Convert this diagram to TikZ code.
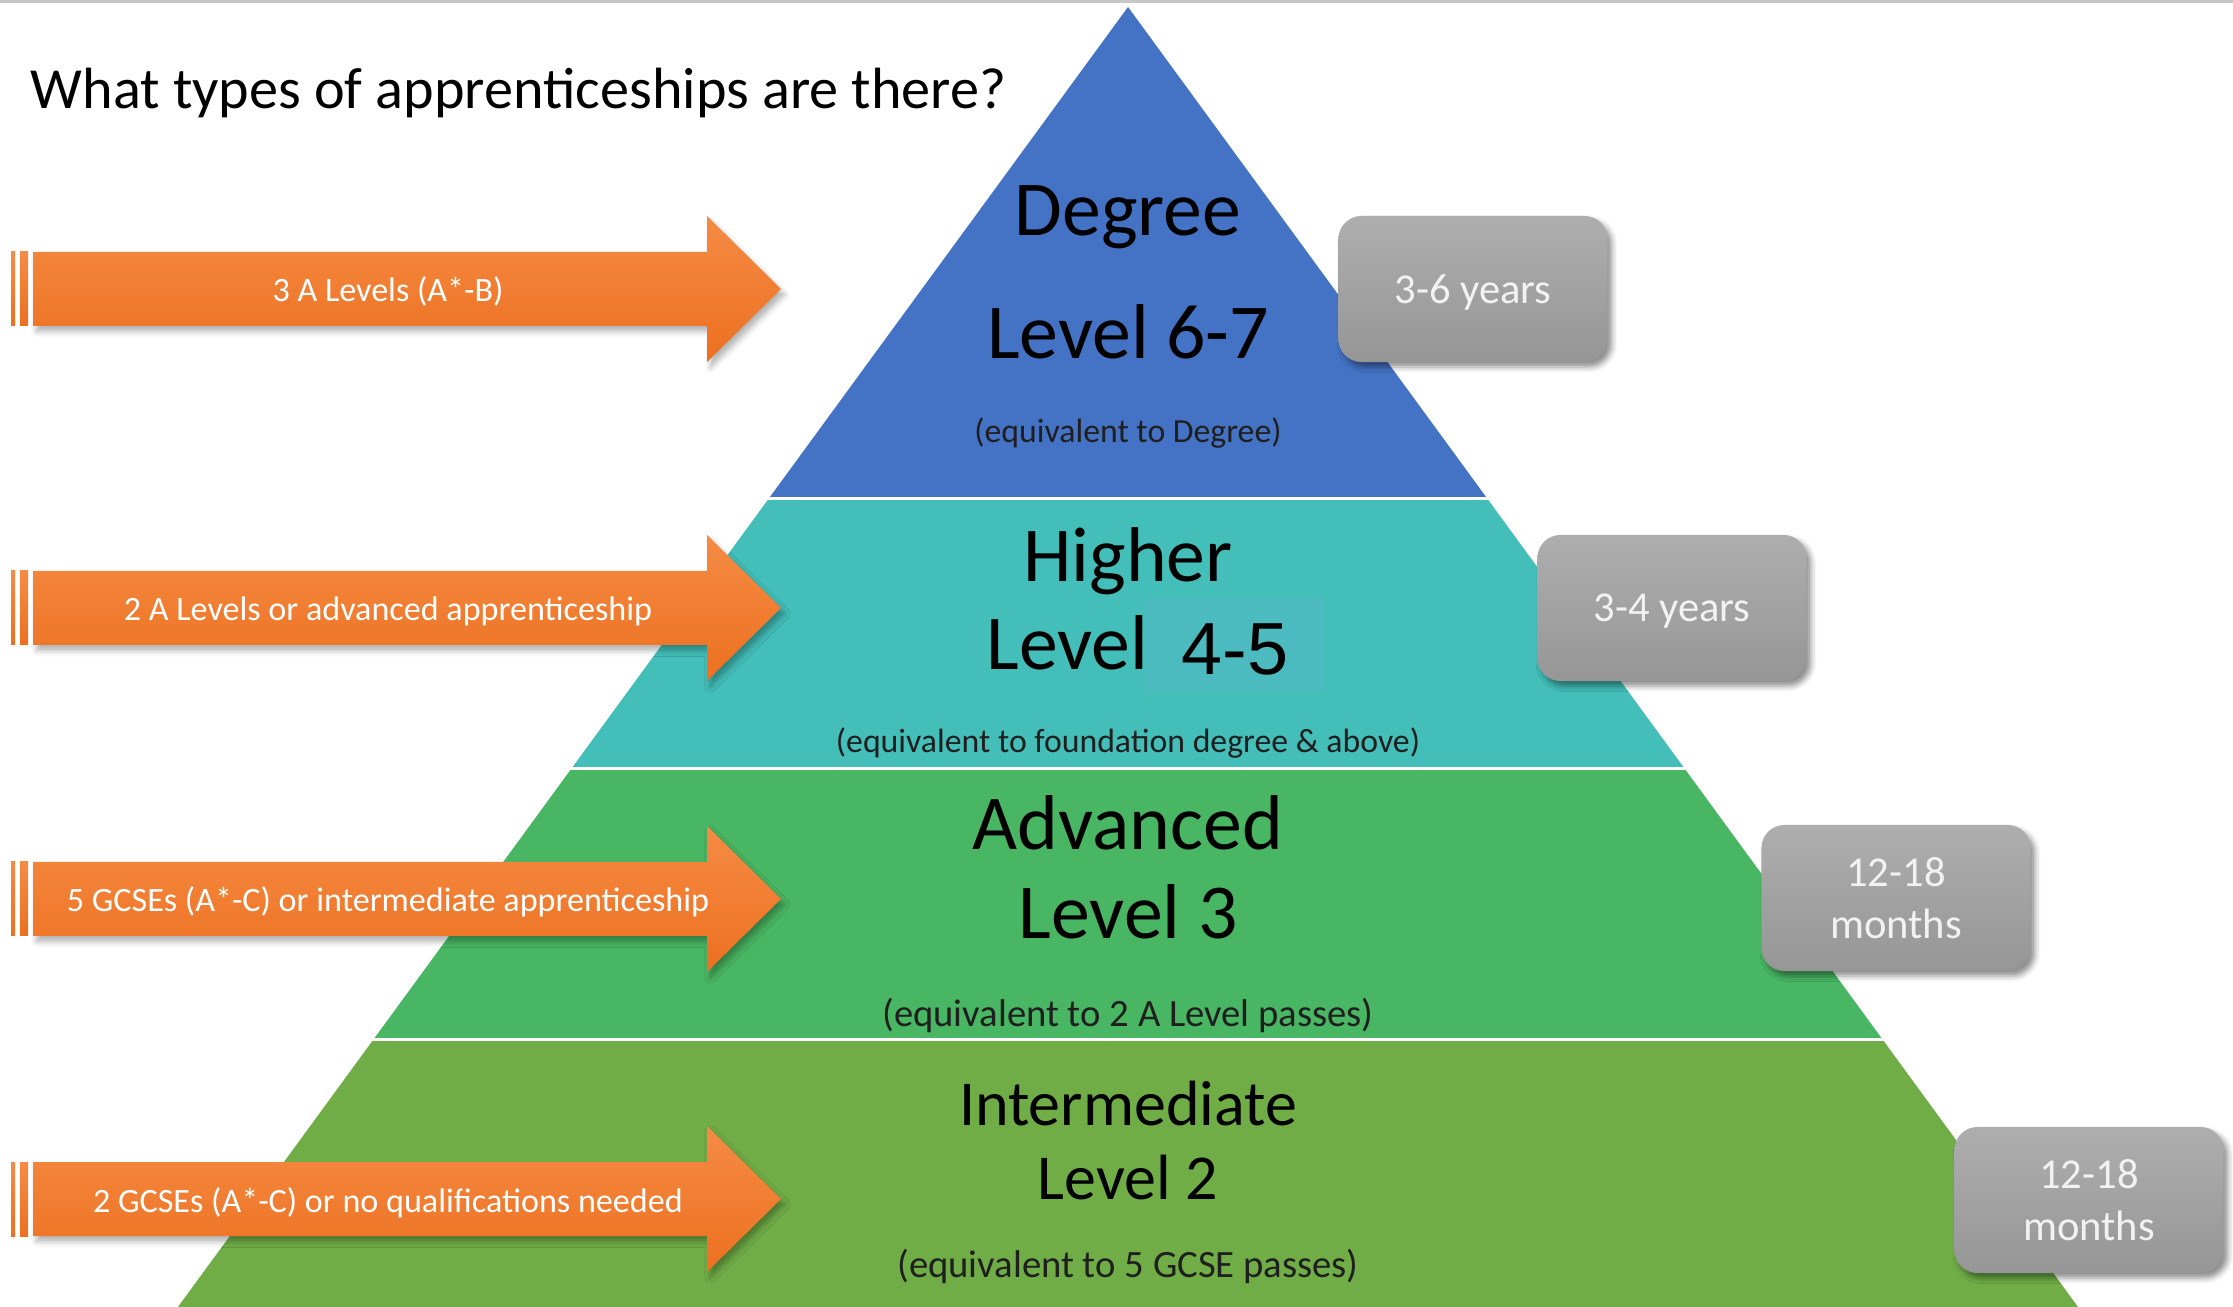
\documentclass[tikz,border=0pt]{standalone}
\usepackage{fontspec}
\setmainfont{Carlito}
\newfontfamily\arialfont{Liberation Sans}
\usepackage{tikz}
\usetikzlibrary{shadows,shadows.blur}
\definecolor{degcolor}{RGB}{68,114,196}
\definecolor{higcolor}{RGB}{67,190,185}
\definecolor{higmark}{RGB}{75,187,192}
\definecolor{advcolor}{RGB}{72,182,98}
\definecolor{intcolor}{RGB}{112,173,71}
\definecolor{orangetop}{RGB}{245,139,68}
\definecolor{orangebot}{RGB}{236,112,32}
\definecolor{greytop}{RGB}{174,174,174}
\definecolor{greybot}{RGB}{150,150,150}

\begin{document}
\begin{tikzpicture}[x=0.01cm, y=-0.01cm,
        durbox/.style  = {rectangle, rounded corners=0.23cm, minimum width=2.69cm, minimum height=1.46cm, top color=greytop, bottom color=greybot, text=white!95!black, align=center, font=\fontsize{12.1}{14.8}\selectfont, blur shadow={shadow xshift=1.2pt, shadow yshift=-1.4pt, shadow blur radius=1.6pt, shadow opacity=45}},
]
\tikzstyle{levelname}=[anchor=base, inner sep=0, font=\fontsize{22.1}{26}\selectfont]
\tikzstyle{levelsmall}=[anchor=base, inner sep=0, font=\fontsize{18.2}{22}\selectfont]
\tikzstyle{equiv}=[anchor=base, inner sep=0, text=black!88, font=\fontsize{9.6}{12}\selectfont]
\tikzstyle{equivbig}=[anchor=base, inner sep=0, text=black!88, font=\fontsize{11}{13}\selectfont]
\tikzstyle{reqbar}=[top color=orangetop, bottom color=orangebot]
\tikzstyle{reqarrow}=[top color=orangetop, bottom color=orangebot, blur shadow={shadow xshift=1pt, shadow yshift=-1.6pt, shadow blur radius=1.6pt, shadow opacity=30}]
\tikzstyle{reqtext}=[anchor=base, inner sep=0, text=white, font=\fontsize{9.7}{12}\selectfont]

	\useasboundingbox (0,0) rectangle (2233,1307);
	\draw[line width=0.85pt, black!22] (0,2) -- (2233,2);

	% pyramid
	\begin{scope}
	\clip (1128,7) -- (2146,1400) -- (110,1400) -- cycle;
	\fill[degcolor] (0,0) rectangle (2233,497);
	\fill[higcolor] (0,500) rectangle (2233,767);
	\fill[advcolor] (0,770) rectangle (2233,1038);
	\fill[intcolor] (0,1041) rectangle (2233,1307);
	\end{scope}
	\fill[higmark] (1145,598) rectangle (1323,692);

	\node[anchor=base west, inner sep=0, font=\fontsize{16.55}{20}\selectfont] (title) at (30,109) {What types of apprenticeships are there?};

	\node[levelname] (deg) at (1128,236) {Degree};
	\node[levelname] (deglvl) at (1128,359) {Level 6-7};
	\node[equiv] (degeq) at (1128,443) {(equivalent to Degree)};

	\node[levelname] (hig) at (1128,582) {Higher};
	\node[levelname, anchor=base east] (higlvl) at (1149,670) {Level};
	\node[anchor=base west, inner sep=0, font=\arialfont\fontsize{21}{25}\selectfont] (higlvlnum) at (1181,675) {4-5};
	\node[equiv] (higeq) at (1128,753) {(equivalent to foundation degree \& above)};

	\node[levelname] (adv) at (1128,850) {Advanced};
	\node[levelname] (advlvl) at (1128,939) {Level 3};
	\node[equivbig] (adveq) at (1128,1027) {(equivalent to 2 A Level passes)};

	\node[levelsmall] (int) at (1128,1126) {Intermediate};
	\node[levelsmall] (intlvl) at (1128,1199) {Level 2};
	\node[equivbig] (inteq) at (1128,1277) {(equivalent to 5 GCSE passes)};

	% entry arrows
	\pgfmathsetmacro{\posv}{289};
	\fill[reqbar] (11,\posv-37) rectangle (15,\posv+37);
	\fill[reqbar] (20,\posv-37) rectangle (28,\posv+37);
	\path[reqarrow] (33,\posv-37) -- (707,\posv-37) -- (707,\posv-73) -- (781,\posv) -- (707,\posv+73) -- (707,\posv+37) -- (33,\posv+37) -- cycle;
	\node[reqtext] (req1) at (388,\posv+13) {3 A Levels (A*-B)};

	\pgfmathsetmacro{\posv}{608};
	\fill[reqbar] (11,\posv-37) rectangle (15,\posv+37);
	\fill[reqbar] (20,\posv-37) rectangle (28,\posv+37);
	\path[reqarrow] (33,\posv-37) -- (707,\posv-37) -- (707,\posv-73) -- (781,\posv) -- (707,\posv+73) -- (707,\posv+37) -- (33,\posv+37) -- cycle;
	\node[reqtext] (req2) at (388,\posv+13) {2 A Levels or advanced apprenticeship};

	\pgfmathsetmacro{\posv}{899};
	\fill[reqbar] (11,\posv-37) rectangle (15,\posv+37);
	\fill[reqbar] (20,\posv-37) rectangle (28,\posv+37);
	\path[reqarrow] (33,\posv-37) -- (707,\posv-37) -- (707,\posv-73) -- (781,\posv) -- (707,\posv+73) -- (707,\posv+37) -- (33,\posv+37) -- cycle;
	\node[reqtext] (req3) at (388,\posv+13) {5 GCSEs (A*-C) or intermediate apprenticeship};

	\pgfmathsetmacro{\posv}{1199};
	\fill[reqbar] (11,\posv-37) rectangle (15,\posv+37);
	\fill[reqbar] (20,\posv-37) rectangle (28,\posv+37);
	\path[reqarrow] (33,\posv-37) -- (707,\posv-37) -- (707,\posv-73) -- (781,\posv) -- (707,\posv+73) -- (707,\posv+37) -- (33,\posv+37) -- cycle;
	\node[reqtext] (req4) at (388,\posv+13) {2 GCSEs (A*-C) or no qualifications needed};

	% durations
	\node[durbox, text depth=0pt] (dur1) at (1473,289) {3-6 years};
	\node[durbox, text depth=0pt] (dur2) at (1672,608) {3-4 years};
	\node[durbox] (dur3) at (1896,898) {12-18\\months};
	\node[durbox] (dur4) at (2089,1200) {12-18\\months};

\end{tikzpicture}
\end{document}
